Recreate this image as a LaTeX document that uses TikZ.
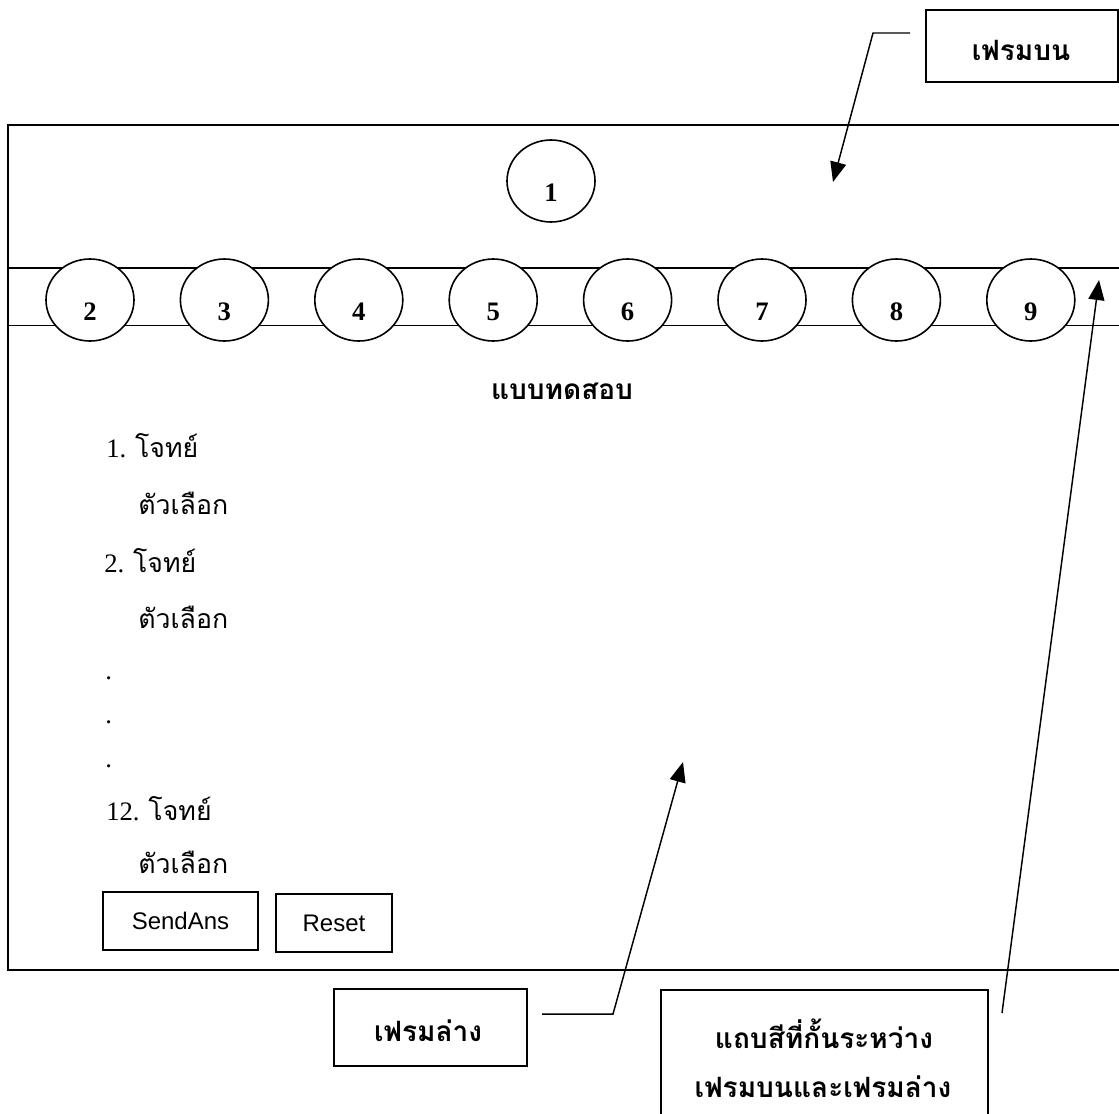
\documentclass[tikz,border=0pt]{standalone}
\usepackage{fontspec}
\setmainfont{Liberation Serif}
\newfontfamily\thai[Script=Thai]{Loma}
\newfontfamily\arial{Liberation Sans}
\usetikzlibrary{shapes.geometric,arrows.meta}
\newcommand{\thr}{\thai\fontsize{20}{24}\selectfont}
\begin{document}
\begin{tikzpicture}[x=0.75pt,y=-0.75pt,
  frame/.style={line width=1.5pt},
  bandline/.style={line width=1.1pt},
  tab/.style={draw,ellipse,fill=white,line width=1.2pt,minimum width=66pt,minimum height=61.5pt,inner sep=0pt},
  num/.style={font=\fontsize{20}{24}\selectfont\bfseries,inner sep=0pt},
  label/.style={draw,line width=1.5pt,inner sep=0pt},
  btn/.style={draw,line width=1.2pt,inner sep=0pt,font=\arial\fontsize{18}{21}\selectfont},
  thb/.style={font=\thai\fontsize{21}{25}\selectfont\bfseries,inner sep=0pt},
  item/.style={font=\fontsize{20}{24}\selectfont,inner sep=0pt,anchor=base west},
  arr/.style={line width=1.1pt,-{Triangle[length=15pt,width=12pt]}}]
\useasboundingbox (0,0) rectangle (1119,1113);
\clip (0,0) rectangle (1119,1113);
% main frame and band
\draw[frame] (8,125) rectangle (1135,970);
\draw[bandline] (8,268) -- (1135,268);
\draw[bandline] (8,325.5) -- (1135,325.5);
% circle 1
\node[tab] (t1) at (551,181) {};
\node[num] (n1) at (551,193) {1};
% band circles
\foreach \i [count=\k from 0] in {2,...,9} {
  \node[tab] (t\i) at ({90+134.4*\k},300) {};
  \node[num] (n\i) at ({90+134.4*\k},312) {\i};
}
% title
\node[thb,anchor=base] (title) at (562,399) {แบบทดสอบ};
% list
\node[item] (q1) at (106,457) {1. {\thr โจทย์}};
\node[item] (a1) at (138,514) {\thr ตัวเลือก};
\node[item] (q2) at (104,572) {2. {\thr โจทย์}};
\node[item] (a2) at (138,628) {\thr ตัวเลือก};
\node[item] (d1) at (105,679) {.};
\node[item] (d2) at (105,723) {.};
\node[item] (d3) at (105,767) {.};
\node[item] (q12) at (106,820) {12. {\thr โจทย์}};
\node[item] (a12) at (138,873) {\thr ตัวเลือก};
% buttons
\node[btn,minimum width=116.25pt,minimum height=43.5pt] (send) at (180.5,921) {SendAns};
\node[btn,minimum width=87pt,minimum height=43.5pt] (reset) at (334,923) {Reset};
% label boxes
\node[label,minimum width=144pt,minimum height=54pt] (topbox) at (1022,46) {};
\node[thb] (toptext) at (1021,50) {เฟรมบน};
\node[label,minimum width=144.75pt,minimum height=57.75pt] (botbox) at (430.5,1027.5) {};
\node[thb] (bottext) at (428,1031) {เฟรมล่าง};
\node[label,minimum width=245.25pt,minimum height=96pt,anchor=north west] (bandbox) at (660,989) {};
\node[thb,anchor=base] (bandtext1) at (824,1048) {แถบสีที่กั้นระหว่าง};
\node[thb,anchor=base] (bandtext2) at (823,1097) {เฟรมบนและเฟรมล่าง};
% connectors
\coordinate (c1s) at (910,33);
\coordinate (c1m) at (873,33);
\coordinate (c1t) at (833,182);
\draw[arr] (c1s) -- (c1m) -- (c1t);
\coordinate (c2s) at (542,1014);
\coordinate (c2m) at (613,1014);
\coordinate (c2t) at (683,762);
\draw[arr] (c2s) -- (c2m) -- (c2t);
\coordinate (c3s) at (1002,1013);
\coordinate (c3t) at (1099,280);
\draw[arr] (c3s) -- (c3t);
\end{tikzpicture}
\end{document}
